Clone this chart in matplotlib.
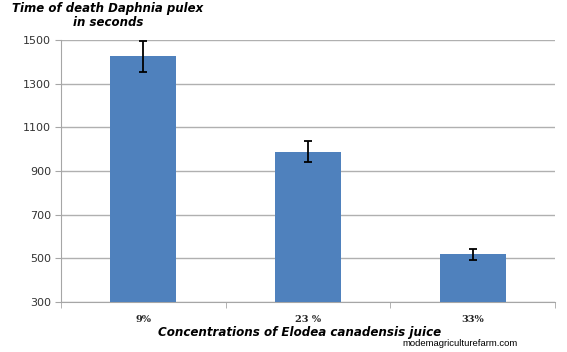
import numpy as np
import matplotlib.pyplot as plt

# Daphnia pulex time of death by Elodea juice concentration
concentrations = ['9%', '23 %', '33%']
death_time = [1425, 988, 518]
error = [70, 48, 27]

fig = plt.figure(figsize=(5.67, 3.52), dpi=100)
ax = fig.add_axes([0.1076, 0.142, 0.8714, 0.744])

x = np.arange(len(concentrations))
ax.bar(x, death_time, width=0.4, color='#4F81BD', zorder=3)
ax.errorbar(x, death_time, yerr=error, fmt='none', ecolor='black',
            elinewidth=1.3, capsize=3, capthick=1.3, zorder=4)

ax.set_ylim(300, 1500)
ax.set_yticks(range(300, 1501, 200))
ax.set_xlim(-0.5, len(concentrations) - 0.5)
ax.yaxis.grid(True, color='#B0B0B0', linewidth=1, zorder=0)

for s in ['top', 'right']:
    ax.spines[s].set_visible(False)
for s in ['left', 'bottom']:
    ax.spines[s].set_color('#A6A6A6')

ax.tick_params(axis='y', colors='#A6A6A6', labelcolor='#333333',
               labelsize=8, length=4, pad=3)
ax.set_xticks(x)
ax.set_xticklabels(concentrations, fontfamily='DejaVu Serif',
                   fontweight='bold', fontsize=7)
ax.tick_params(axis='x', length=0, pad=9, labelcolor='#222222')
ax.set_xticks(np.arange(-0.5, len(concentrations)), minor=True)
ax.tick_params(axis='x', which='minor', length=4, color='#A6A6A6')

fig.text(0.19, 0.993, 'Time of death Daphnia pulex\nin seconds', ha='center',
         va='top', fontsize=8.5, fontweight='heavy', fontstyle='italic',
         linespacing=1.05)
fig.text(0.529, 0.055, 'Concentrations of Elodea canadensis juice', ha='center',
         va='center', fontsize=8.6, fontweight='heavy', fontstyle='italic')
fig.text(0.709, 0.025, 'modemagriculturefarm.com', ha='left', va='center',
         fontsize=6.8, fontfamily='Liberation Sans')

fig.savefig('out.png', dpi=100)
